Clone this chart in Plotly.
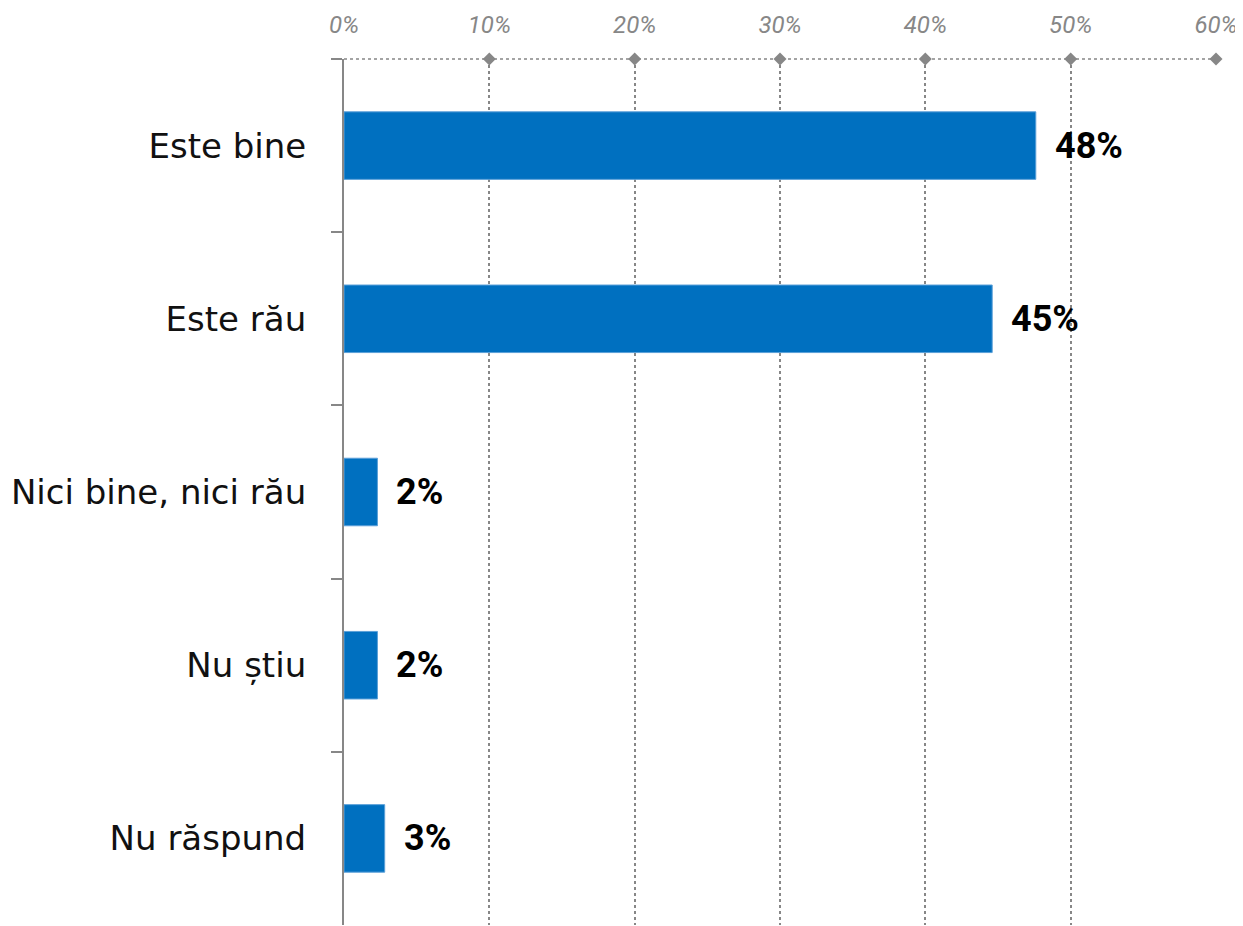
import plotly.graph_objects as go

categories = ["Este bine", "Este rău", "Nici bine, nici rău", "Nu știu", "Nu răspund"]
values = [47.6, 44.6, 2.3, 2.3, 2.8]
value_labels = ["48%", "45%", "2%", "2%", "3%"]
x_ticks = [0, 10, 20, 30, 40, 50, 60]
x_tick_labels = ["0%", "10%", "20%", "30%", "40%", "50%", "60%"]

FONT = "DejaVu Sans"
GREY = "#878787"

fig = go.Figure()
fig.add_trace(go.Bar(
    y=categories, x=values, orientation="h",
    marker=dict(color="#0070C0", line=dict(color="#5a9fd8", width=1)),
    width=0.39, hoverinfo="skip", showlegend=False,
))
# diamond markers on the top axis line
fig.add_trace(go.Scatter(
    x=x_ticks[1:], y=[1] * (len(x_ticks) - 1), yaxis="y2", mode="markers",
    marker=dict(symbol="diamond", size=10, color=GREY),
    cliponaxis=False, hoverinfo="skip", showlegend=False,
))

for cat, v, lab in zip(categories, values, value_labels):
    fig.add_annotation(x=v, y=cat, text=f"<b>{lab}</b>", showarrow=False,
                       xanchor="left", xshift=17,
                       font=dict(family="Roboto", size=36, color="#000000"))

fig.add_shape(type="line", xref="x", yref="paper", x0=0, x1=60, y0=1, y1=1,
              line=dict(color=GREY, width=1.5, dash="dot"))

fig.update_layout(
    width=1235, height=918,
    margin=dict(l=336, r=27, t=51, b=1),
    plot_bgcolor="white", paper_bgcolor="white",
    font=dict(family=FONT),
    xaxis=dict(
        side="top", range=[0, 60], tickvals=x_ticks, ticktext=x_tick_labels,
        tickfont=dict(family="Roboto", size=24, color=GREY, style="italic"),
        showgrid=True, gridcolor=GREY, griddash="dot", gridwidth=1.5,
        zeroline=False, showline=False, ticks="", ticklabelstandoff=20,
    ),
    yaxis=dict(
        categoryorder="array", categoryarray=categories, autorange="reversed",
        tickfont=dict(family=FONT, size=34, color="#111111"),
        showline=True, linecolor=GREY, linewidth=2,
        ticks="outside", tickson="boundaries", ticklen=11, tickcolor=GREY, tickwidth=1.5,
        showgrid=False, ticklabelstandoff=29,
    ),
    yaxis2=dict(overlaying="y", range=[0, 1], visible=False),
    bargap=0.6,
)

fig.write_html("out.html")
